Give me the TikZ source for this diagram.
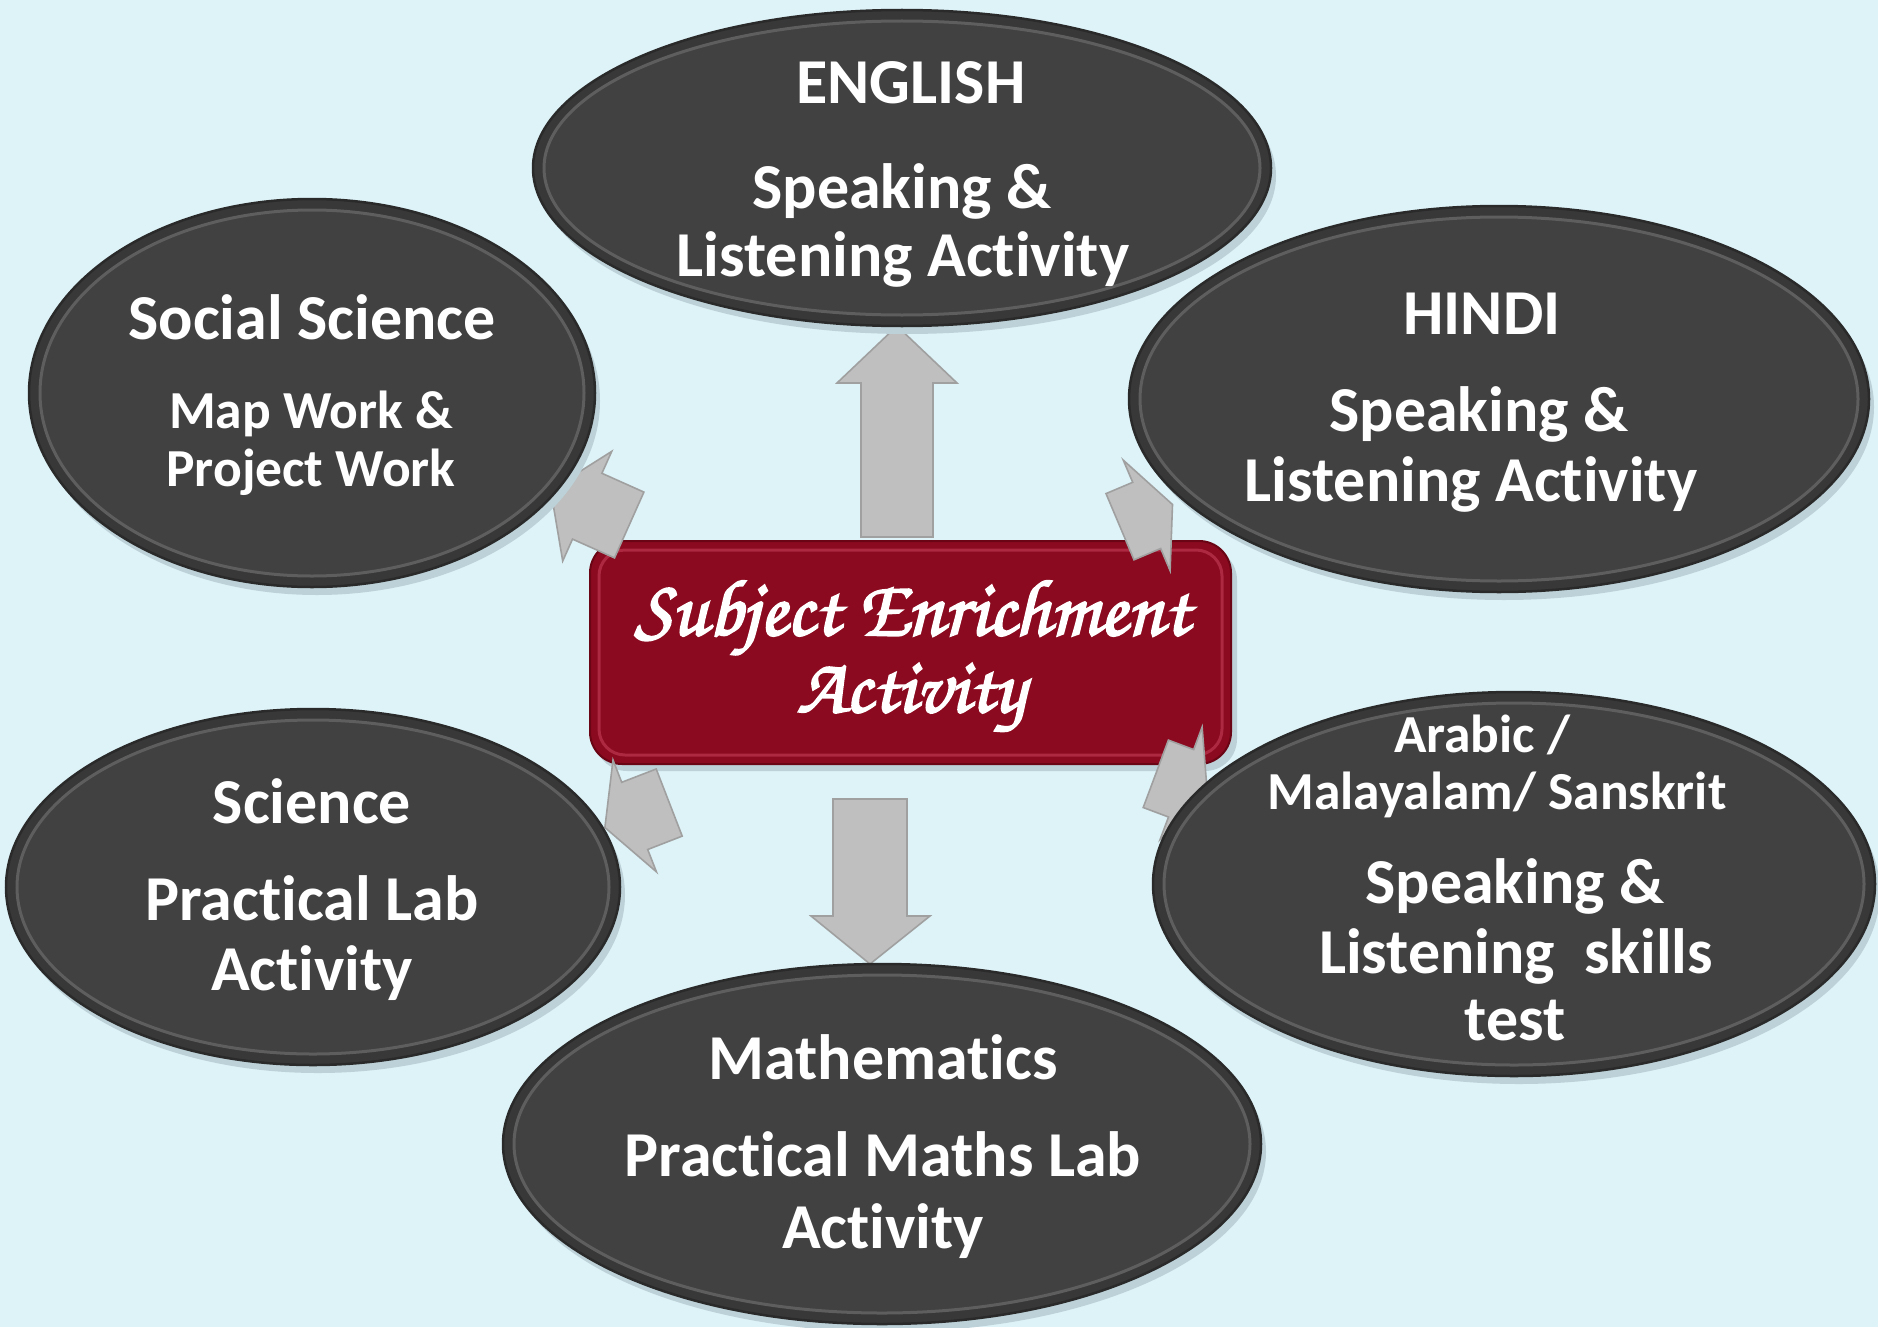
\documentclass[tikz,border=0pt]{standalone}
\usepackage{fontspec}
\usepackage{graphicx}
\setmainfont{Carlito}[Ligatures={NoCommon,NoContextual}]
\newfontfamily\scriptf[FakeBold=2.5]{texgyrechorus-mediumitalic.otf}
\usetikzlibrary{shapes.geometric}
\definecolor{bgc}{HTML}{DDF3F8}
\definecolor{bubfill}{HTML}{383838}
\definecolor{bubedge}{HTML}{2A2A2A}
\definecolor{bubring}{HTML}{5E5E5E}
\definecolor{bubin}{HTML}{414141}
\definecolor{shadc}{HTML}{BCD2D8}
\definecolor{boxfill}{HTML}{8B0A1F}
\definecolor{boxedge}{HTML}{6A0515}
\definecolor{boxhi}{HTML}{C8445E}
\definecolor{arrfill}{HTML}{BFBFBF}
\definecolor{arredge}{HTML}{A0A0A0}
\tikzset{
  bubble/.style={ellipse, fill=bubfill, draw=bubedge, line width=2.5pt, inner sep=0pt, outer sep=0pt},
  blockarrow/.style={fill=arrfill, draw=arredge, line width=1.6pt, line join=miter},
  bigtxt/.style={text=white, font=\bfseries\fontsize{64}{64}\selectfont, anchor=base, inner sep=0pt},
  smalltxt/.style={text=white, font=\bfseries\fontsize{53.5}{53.5}\selectfont, anchor=base, inner sep=0pt},
  coretxt/.style={text=white, anchor=base, inner sep=0pt},
  corebox/.style={rectangle, rounded corners=32pt, fill=boxfill, draw=boxedge, line width=2pt, inner sep=0pt}
}
\newcommand{\bub}[5]{%
  \fill[shadc] (#2+5,#3+8) ellipse [x radius=#4, y radius=#5];
  \node[bubble, minimum width={2*#4pt}, minimum height={2*#5pt}] (#1) at (#2,#3) {};
  \draw[bubring, fill=bubin, line width=3pt] (#2,#3) ellipse [x radius=#4-11, y radius=#5-11];
}
\begin{document}
\begin{tikzpicture}[x=1pt, y=-1pt]
\useasboundingbox (0,0) rectangle (1878,1327);
\fill[bgc] (0,0) rectangle (1878,1327);

% central box
\fill[shadc, rounded corners=32pt] (595,548) rectangle (1237,771);
\node[corebox, minimum width=641pt, minimum height=223pt] (core) at (910.5,652.5) {};
\draw[boxhi, line width=3pt, opacity=0.55, rounded corners=26pt] (599,550) rectangle (1222,755);

% block arrows
\draw[blockarrow] (861,537) -- (933,537) -- (933,383) -- (957,383) -- (897,326) -- (837,383) -- (861,383) -- cycle;
\draw[blockarrow] (833,799) -- (907,799) -- (907,916) -- (930,916) -- (870,964) -- (811,916) -- (833,916) -- cycle;
\draw[blockarrow] (643.9,492.1) -- (601.9,473.3) -- (611.7,451.4) -- (550.7,489.9) -- (562.7,561.0) -- (572.5,539.1) -- (614.5,557.9) -- cycle;
\draw[blockarrow] (1106.0,493.6) -- (1132.7,482.3) -- (1123.3,460.2) -- (1172.5,504.5) -- (1170.1,570.6) -- (1160.7,548.5) -- (1134.0,559.8) -- cycle;
\draw[blockarrow] (656.2,769.0) -- (621.7,782.3) -- (613.0,760.0) -- (604.9,827.5) -- (656.4,871.8) -- (647.7,849.5) -- (682.2,836.1) -- cycle;
\draw[blockarrow] (1168.4,740.1) -- (1193.7,749.6) -- (1202.1,727.1) -- (1207.3,793.1) -- (1160.1,839.5) -- (1168.5,817.0) -- (1143.2,807.5) -- cycle;

% bubbles
\bub{eng}{902}{168}{369}{158}
\bub{hin}{1499}{399}{370}{193}
\bub{soc}{312}{393}{283}{194}
\bub{sci}{313}{887}{307}{178}
\bub{mat}{882}{1144}{379}{180}
\bub{ara}{1514}{884}{361}{192}

% central text
\node[coretxt] (c1) at (912,635) {\resizebox{554pt}{!}{\scriptf Subject Enrichment}};
\node[coretxt] (c2) at (911,712) {\resizebox{228pt}{!}{\scriptf Activity}};

% English
\node[bigtxt] (e1) at (911,103) {ENGLISH};
\node[bigtxt] (e2) at (902,208) {Speaking \&};
\node[bigtxt] (e3) at (903,276) {Listening Activity};
% Hindi
\node[bigtxt] (h1) at (1482,334) {HINDI};
\node[bigtxt] (h2) at (1479,431) {Speaking \&};
\node[bigtxt] (h3) at (1471,501) {Listening Activity};
% Social Science
\node[bigtxt] (s1) at (312,339) {Social Science};
\node[smalltxt] (s2) at (311,428) {Map Work \&};
\node[smalltxt] (s3) at (311,486) {Project Work};
% Science
\node[bigtxt] (p1) at (312,823) {Science};
\node[bigtxt] (p2) at (312,920) {Practical Lab};
\node[bigtxt] (p3) at (312,990) {Activity};
% Mathematics
\node[bigtxt] (m1) at (883,1079) {Mathematics};
\node[bigtxt] (m2) at (883,1176) {Practical Maths Lab};
\node[bigtxt] (m3) at (883,1248) {Activity};
% Arabic
\node[smalltxt] (a1) at (1482,752) {Arabic /};
\node[smalltxt] (a2) at (1497,809) {Malayalam/ Sanskrit};
\node[bigtxt] (a3) at (1515,903) {Speaking \&};
\node[bigtxt] (a4) at (1516,973) {Listening\ \ skills};
\node[bigtxt] (a5) at (1515,1040) {test};
\end{tikzpicture}
\end{document}
